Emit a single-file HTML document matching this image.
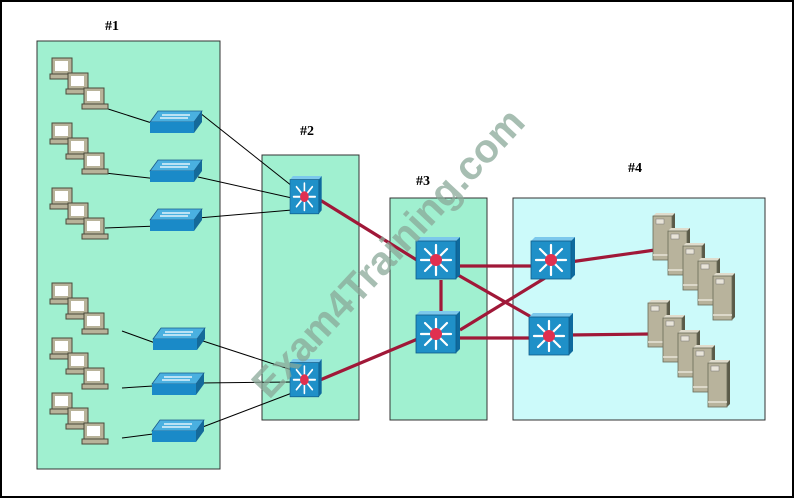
<!DOCTYPE html>
<html><head><meta charset="utf-8"><style>
html,body{margin:0;padding:0;background:#fff;}
svg{display:block;}
text{font-family:"Liberation Serif",serif;font-weight:bold;}
</style></head><body>
<svg width="795" height="499" viewBox="0 0 795 499" xmlns="http://www.w3.org/2000/svg">
<defs>
  <g id="pc">
    <rect x="2" y="0" width="20" height="16" fill="#b8b39a" stroke="#4a4a3a" stroke-width="1"/>
    <rect x="5" y="3" width="13" height="10" fill="#fff"/>
    <rect x="0" y="16" width="26" height="5" fill="#b8b39a" stroke="#4a4a3a" stroke-width="1"/>
  </g>
  <g id="ws">
    <polygon points="8,0 52,0 44,11 0,11" fill="#4ab0e0" stroke="#1a5a8a" stroke-width="0.8"/>
    <polygon points="0,11 44,11 44,22 0,22" fill="#1a8ac8"/>
    <polygon points="44,11 52,0 52,11 44,22" fill="#146a9a"/>
    <line x1="12" y1="4" x2="40" y2="4" stroke="#fff" stroke-width="1.3"/>
    <line x1="10" y1="7" x2="38" y2="7" stroke="#fff" stroke-width="1.3"/>
  </g>
  <g id="ml">
    <polygon points="0,4 4,0 44,0 40,4" fill="#7cc8ec"/>
    <polygon points="40,4 44,0 44,38 40,42" fill="#0e6a9e"/>
    <rect x="0" y="4" width="40" height="38" fill="#1f90c8" stroke="#0e5a88" stroke-width="0.8"/>
    <g stroke="#fff" stroke-width="2.2" stroke-linecap="round">
      <line x1="20" y1="23" x2="20" y2="8"/><line x1="20" y1="23" x2="20" y2="38"/>
      <line x1="20" y1="23" x2="5" y2="23"/><line x1="20" y1="23" x2="35" y2="23"/>
      <line x1="20" y1="23" x2="9" y2="12"/><line x1="20" y1="23" x2="31" y2="12"/>
      <line x1="20" y1="23" x2="9" y2="34"/><line x1="20" y1="23" x2="31" y2="34"/>
    </g>
    <circle cx="20" cy="23" r="6" fill="#e03050"/>
  </g>
  <g id="sv">
    <polygon points="0,3 3,0 22,0 19,3" fill="#e0dccc"/>
    <polygon points="19,3 22,0 22,44 19,47" fill="#5a5a48"/>
    <rect x="0" y="3" width="19" height="44" fill="#b8b39c" stroke="#6a6a58" stroke-width="0.8"/>
    <rect x="3" y="6" width="8" height="5" fill="#e8e4d8" stroke="#777" stroke-width="0.5"/>
    <line x1="0" y1="42" x2="19" y2="42" stroke="#e8e4d8" stroke-width="1.5"/>
  </g>
</defs>
<rect x="1" y="1" width="792" height="496" fill="#fff" stroke="#000" stroke-width="2"/>

<rect x="37" y="41" width="183" height="428" fill="#a0f0d0" stroke="#333" stroke-width="1"/>
<rect x="262" y="155" width="97" height="265" fill="#a0f0d0" stroke="#333" stroke-width="1"/>
<rect x="390" y="198" width="97" height="222" fill="#a0f0d0" stroke="#333" stroke-width="1"/>
<rect x="513" y="198" width="252" height="222" fill="#ccfafa" stroke="#333" stroke-width="1"/>

<text x="105" y="30" font-size="14">#1</text>
<text x="300" y="135" font-size="14">#2</text>
<text x="416" y="185" font-size="14">#3</text>
<text x="628" y="172" font-size="14">#4</text>

<g stroke="#000" stroke-width="1">
  <line x1="105" y1="108" x2="158" y2="125"/>
  <line x1="105" y1="173" x2="158" y2="179"/>
  <line x1="105" y1="228" x2="158" y2="226"/>
  <line x1="122" y1="331" x2="158" y2="344"/>
  <line x1="122" y1="388" x2="153" y2="386"/>
  <line x1="122" y1="438" x2="153" y2="434"/>
  <line x1="200" y1="113" x2="292" y2="186"/>
  <line x1="198" y1="177" x2="292" y2="198"/>
  <line x1="198" y1="218" x2="292" y2="210"/>
  <line x1="203" y1="341" x2="292" y2="370"/>
  <line x1="200" y1="383" x2="292" y2="382"/>
  <line x1="200" y1="428" x2="292" y2="393"/>
</g>
<g stroke="#a01838" stroke-width="3.2">
  <line x1="320" y1="200" x2="420" y2="262"/>
  <line x1="320" y1="380" x2="420" y2="338"/>
  <line x1="441" y1="280" x2="441" y2="315"/>
  <line x1="455" y1="266" x2="535" y2="266"/>
  <line x1="455" y1="338" x2="535" y2="338"/>
  <line x1="458" y1="275" x2="540" y2="322"/>
  <line x1="460" y1="330" x2="545" y2="278"/>
  <line x1="570" y1="262" x2="655" y2="250"/>
  <line x1="568" y1="335" x2="650" y2="334"/>
</g>

<!-- PCs -->
<g>
  <use href="#pc" x="50" y="58"/><use href="#pc" x="66" y="73"/><use href="#pc" x="82" y="88"/>
  <use href="#pc" x="50" y="123"/><use href="#pc" x="66" y="138"/><use href="#pc" x="82" y="153"/>
  <use href="#pc" x="50" y="188"/><use href="#pc" x="66" y="203"/><use href="#pc" x="82" y="218"/>
  <use href="#pc" x="50" y="283"/><use href="#pc" x="66" y="298"/><use href="#pc" x="82" y="313"/>
  <use href="#pc" x="50" y="338"/><use href="#pc" x="66" y="353"/><use href="#pc" x="82" y="368"/>
  <use href="#pc" x="50" y="393"/><use href="#pc" x="66" y="408"/><use href="#pc" x="82" y="423"/>
</g>
<!-- workgroup switches -->
<use href="#ws" x="150" y="111"/>
<use href="#ws" x="150" y="160"/>
<use href="#ws" x="150" y="209"/>
<use href="#ws" x="153" y="328"/>
<use href="#ws" x="152" y="373"/>
<use href="#ws" x="152" y="420"/>
<!-- multilayer -->
<g transform="translate(290,176) scale(0.72,0.9)"><use href="#ml"/></g>
<g transform="translate(290,359) scale(0.72,0.9)"><use href="#ml"/></g>
<use href="#ml" x="416" y="237"/>
<use href="#ml" x="416" y="311"/>
<use href="#ml" x="531" y="237"/>
<use href="#ml" x="529" y="313"/>
<!-- servers -->
<use href="#sv" x="653" y="213"/><use href="#sv" x="668" y="228"/><use href="#sv" x="683" y="243"/><use href="#sv" x="698" y="258"/><use href="#sv" x="713" y="273"/>
<use href="#sv" x="648" y="300"/><use href="#sv" x="663" y="315"/><use href="#sv" x="678" y="330"/><use href="#sv" x="693" y="345"/><use href="#sv" x="708" y="360"/>

<text x="0" y="0" font-family="Liberation Sans, sans-serif" font-size="40" font-weight="bold" fill="#8aa898" fill-opacity="0.75" text-anchor="middle" transform="translate(398,262) rotate(-47)" style="font-family:'Liberation Sans',sans-serif">Exam4Training.com</text>
</svg>
</body></html>
